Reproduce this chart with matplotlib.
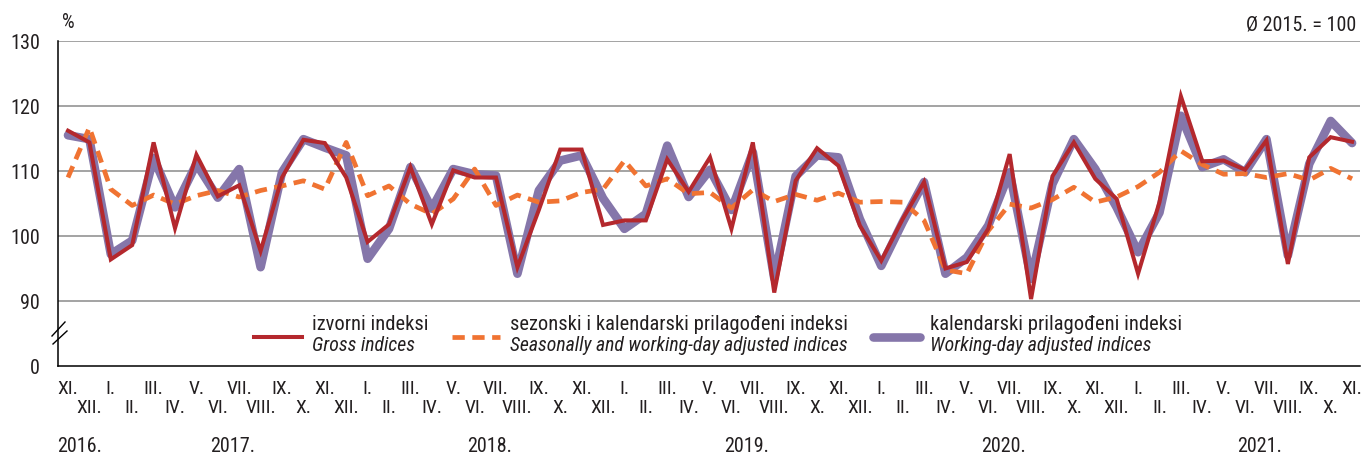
import matplotlib
matplotlib.use("Agg")
import matplotlib.pyplot as plt
from matplotlib.font_manager import fontManager

# ---------------- data ----------------
roman = ["I.", "II.", "III.", "IV.", "V.", "VI.", "VII.", "VIII.", "IX.", "X.", "XI.", "XII."]
start_month = 11  # XI. 2016
n_months = 61
years = ["2016.", "2017.", "2018.", "2019.", "2020.", "2021."]

gross = [116.2, 114.4, 96.4, 98.6, 114.4, 101.2, 112.5, 106.1, 107.8, 97.7,
         109.0, 114.8, 114.3, 109.0, 99.1, 101.8, 110.6, 101.8, 110.1, 109.0,
         109.0, 95.2, 104.0, 113.3, 113.3, 101.7, 102.4, 102.4, 111.8, 106.8,
         112.1, 101.1, 114.4, 91.3, 108.5, 113.5, 110.8, 101.6, 96.2, 102.6,
         108.3, 95.0, 96.0, 101.1, 112.6, 90.3, 109.2, 114.4, 108.8, 105.7,
         94.2, 105.2, 121.5, 111.5, 111.6, 110.2, 114.7, 95.7, 112.1, 115.2,
         114.5]

working_day = [115.5, 114.9, 97.2, 99.3, 112.0, 104.4, 111.1, 105.9, 110.3, 95.2,
               109.8, 114.9, 113.6, 112.4, 96.5, 101.1, 110.6, 104.2, 110.3, 109.5,
               109.3, 94.2, 107.0, 111.6, 112.4, 105.8, 101.1, 103.4, 113.9, 106.0,
               110.2, 104.0, 112.9, 93.5, 109.2, 112.4, 112.1, 102.6, 95.4, 102.1,
               108.3, 94.2, 96.7, 101.6, 109.8, 93.4, 108.0, 114.9, 110.3, 104.4,
               97.5, 103.6, 118.5, 110.6, 111.8, 109.8, 114.9, 97.0, 111.1, 117.7,
               114.3]

seasonal = [109.0, 116.7, 107.2, 104.7, 106.3, 104.9, 106.2, 107.0, 106.0, 107.0,
            107.7, 108.5, 107.2, 114.4, 106.2, 107.7, 104.9, 103.4, 105.7, 110.3,
            104.7, 106.3, 105.2, 105.4, 106.7, 107.2, 111.6, 107.7, 108.8, 106.5,
            106.7, 104.3, 107.1, 105.3, 106.4, 105.5, 106.6, 105.2, 105.3, 105.2,
            102.4, 94.8, 94.2, 100.8, 104.9, 104.3, 105.6, 107.5, 105.2, 106.0,
            107.6, 109.8, 113.1, 111.0, 109.5, 109.6, 109.0, 109.6, 108.6, 110.4,
            108.8]

y_ticks = [80, 90, 100, 110, 120, 130]
y_ticklabels = ["0", "90", "100", "110", "120", "130"]
grid_values = [90, 100, 110, 120, 130]

legend_main = ["izvorni indeksi",
               "sezonski i kalendarski prilagođeni indeksi",
               "kalendarski prilagođeni indeksi"]
legend_sub = ["Gross indices",
              "Seasonally and working-day adjusted indices",
              "Working-day adjusted indices"]

# ---------------- style ----------------
names = {f.name for f in fontManager.ttflist}
pref = ["Liberation Sans Narrow", "Arial Narrow", "Nimbus Sans Narrow", "Roboto Condensed",
        "PT Sans Narrow", "Archivo Narrow", "Barlow Semi Condensed", "Liberation Sans"]
fam = [f for f in pref if f in names][:1] + ["DejaVu Sans"]
plt.rcParams["font.family"] = fam
TXT = "#231f20"
RED = "#B4282D"
ORANGE = "#F07332"
PURPLE = "#8576AA"
GRID = "#8a8a8a"

W, H = 1367, 456
fig = plt.figure(figsize=(W / 100, H / 100), dpi=100)
ax_l, ax_r, ax_t, ax_b = 58, 1360, 42, 367
aw, ah = ax_r - ax_l, ax_b - ax_t
ax = fig.add_axes([ax_l / W, 1 - ax_b / H, aw / W, ah / H])


def fx(px):
    return (px - ax_l) / aw


def fy(py):
    return (ax_b - py) / ah


x = list(range(n_months))
labels_month = [roman[(start_month - 1 + i) % 12] for i in x]

ax.hlines(grid_values, 0, 1, transform=ax.get_yaxis_transform(), color=GRID, lw=1.1, zorder=1)

l_wd, = ax.plot(x, working_day, color=PURPLE, lw=6.2, solid_joinstyle="round",
                solid_capstyle="round", zorder=2)
l_sa, = ax.plot(x, seasonal, color=ORANGE, lw=3.4, dashes=(2.6, 1.6), zorder=3)
l_gr, = ax.plot(x, gross, color=RED, lw=2.9, solid_joinstyle="miter", zorder=4)

ax.set_xlim(-0.467, 60.37)
ax.set_ylim(80, 130)

for s in ["top", "right"]:
    ax.spines[s].set_visible(False)
for s in ["left", "bottom"]:
    ax.spines[s].set_color("black")
    ax.spines[s].set_linewidth(1.1)

ax.set_yticks(y_ticks)
ax.set_yticklabels(y_ticklabels, fontsize=14.5, color=TXT)
ax.tick_params(axis="y", length=0, pad=13)

# month labels: two staggered rows
even = [i for i in x if i % 2 == 0]
odd = [i for i in x if i % 2 == 1]
ax.set_xticks(even)
ax.set_xticklabels([labels_month[i] for i in even], fontsize=14, color=TXT)
ax.set_xticks(odd, minor=True)
ax.set_xticklabels([labels_month[i] for i in odd], minor=True, fontsize=14, color=TXT)
ax.tick_params(axis="x", which="major", length=0, pad=9.5)
ax.tick_params(axis="x", which="minor", length=0, pad=23.2)

# year labels
year_pos = [-0.5] + [12 * (k - 1) + 7.7 for k in range(1, len(years))]
for k, (yr, xp) in enumerate(zip(years, year_pos)):
    ax.text(xp, fy(447), yr, transform=ax.get_xaxis_transform(),
            ha="left" if k == 0 else "center", va="center", fontsize=14.5, color=TXT)

# axis break marks
for (x0, y0, x1, y1) in [(52, 337, 65, 323), (53, 345, 67, 332)]:
    ax.plot([fx(x0), fx(x1)], [fy(y0), fy(y1)], transform=ax.transAxes,
            color="black", lw=1.0, clip_on=False, zorder=6)

# header texts
fig.text(62 / W, 1 - 22 / H, "%", fontsize=14.5, color=TXT, ha="left", va="center")
fig.text(1356 / W, 1 - 25 / H, "Ø 2015. = 100", fontsize=14.5, color=TXT, ha="right", va="center")

# legend (drawn manually: handle + two text lines)
handle_x = [(254, 302), (452, 500), (873, 920)]
text_x = [312, 510, 930]
handle_style = [dict(color=RED, lw=2.9),
                dict(color=ORANGE, lw=3.4, dashes=(2.6, 1.6)),
                dict(color=PURPLE, lw=6.2, solid_capstyle="round")]
for (hx0, hx1), tx, st, main, sub in zip(handle_x, text_x, handle_style, legend_main, legend_sub):
    ax.plot([fx(hx0), fx(hx1)], [fy(338), fy(338)], transform=ax.transAxes, clip_on=False,
            zorder=5, **st)
    ax.text(fx(tx), fy(325), main, transform=ax.transAxes, ha="left", va="center",
            fontsize=14.8, color=TXT)
    ax.text(fx(tx), fy(346), sub, transform=ax.transAxes, ha="left", va="center",
            fontsize=14.2, color=TXT, fontstyle="italic")

fig.savefig("out.png", dpi=100)
